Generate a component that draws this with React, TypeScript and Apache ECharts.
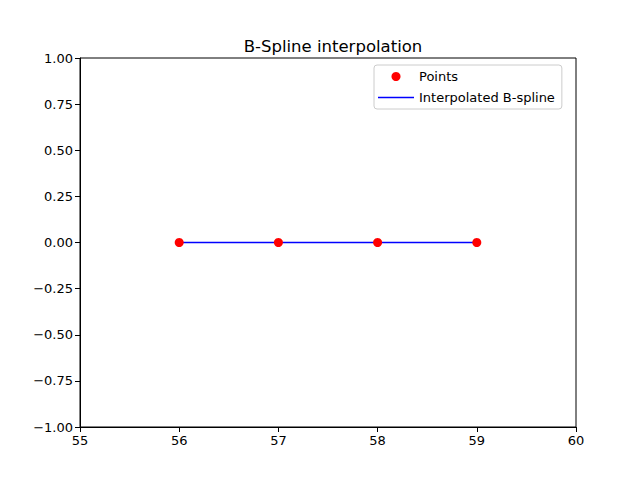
import { useEffect, useRef } from 'react';
import * as echarts from 'echarts';

const pointsX = [56, 57, 58, 59];
const pointsY = [0, 0, 0, 0];
const splineX = [56, 57, 58, 59];
const splineY = [0, 0, 0, 0];

const fmt = (v: number, d: number) => v.toFixed(d).replace('-', '\u2212');

export default function App() {
  const ref = useRef<HTMLDivElement>(null);

  useEffect(() => {
    document.body.style.margin = '0';
    if (!ref.current) return;
    const chart = echarts.init(ref.current, undefined, { renderer: 'svg' });
    const font = 'DejaVu Sans';
    const axisCommon = {
      axisLine: { show: true, onZero: false, lineStyle: { color: '#000', width: 1 } },
      axisTick: { show: true, inside: false, length: 5, lineStyle: { color: '#000' } },
      splitLine: { show: false },
      axisLabel: { color: '#000', fontSize: 13, fontFamily: font, margin: 7 },
    };
    chart.setOption({
      animation: false,
      textStyle: { fontFamily: font },
      title: {
        text: 'B-Spline interpolation',
        left: 328,
        textAlign: 'center',
        top: 33,
        textStyle: { fontSize: 16.5, fontWeight: 'normal', color: '#000', fontFamily: font },
      },
      grid: { left: 80, right: 64, top: 58, bottom: 53, show: true, borderColor: '#000', borderWidth: 1 },
      xAxis: {
        type: 'value', min: 55, max: 60, interval: 1, ...axisCommon,
        axisLabel: { ...axisCommon.axisLabel, formatter: (v: number) => fmt(v, 0) },
      },
      yAxis: {
        type: 'value', min: -1, max: 1, interval: 0.25, ...axisCommon,
        axisLabel: { ...axisCommon.axisLabel, formatter: (v: number) => fmt(v, 2) },
      },
      legend: {
        orient: 'vertical',
        left: 374,
        top: 65,
        backgroundColor: '#fff',
        borderColor: '#ccc',
        borderWidth: 1,
        borderRadius: 3,
        padding: [5, 7, 5, 4],
        itemGap: 8,
        itemWidth: 36,
        itemHeight: 9,
        textStyle: { fontSize: 13, color: '#000', fontFamily: font },
        data: [
          { name: 'Points', icon: 'circle' },
          { name: 'Interpolated B-spline', icon: 'path://M0,0L36,0L36,1.6L0,1.6Z' },
        ],
      },
      series: [
        {
          name: 'Interpolated B-spline',
          type: 'line',
          data: splineX.map((x, i) => [x, splineY[i]]),
          showSymbol: false,
          symbol: 'none',
          lineStyle: { color: '#0000ff', width: 1.6 },
          itemStyle: { color: '#0000ff' },
          z: 2,
        },
        {
          name: 'Points',
          type: 'scatter',
          data: pointsX.map((x, i) => [x, pointsY[i]]),
          symbolSize: 9,
          itemStyle: { color: '#ff0000', opacity: 1 },
          z: 3,
        },
      ],
    });
    return () => chart.dispose();
  }, []);

  return <div ref={ref} style={{ width: 640, height: 480 }} />;
}
